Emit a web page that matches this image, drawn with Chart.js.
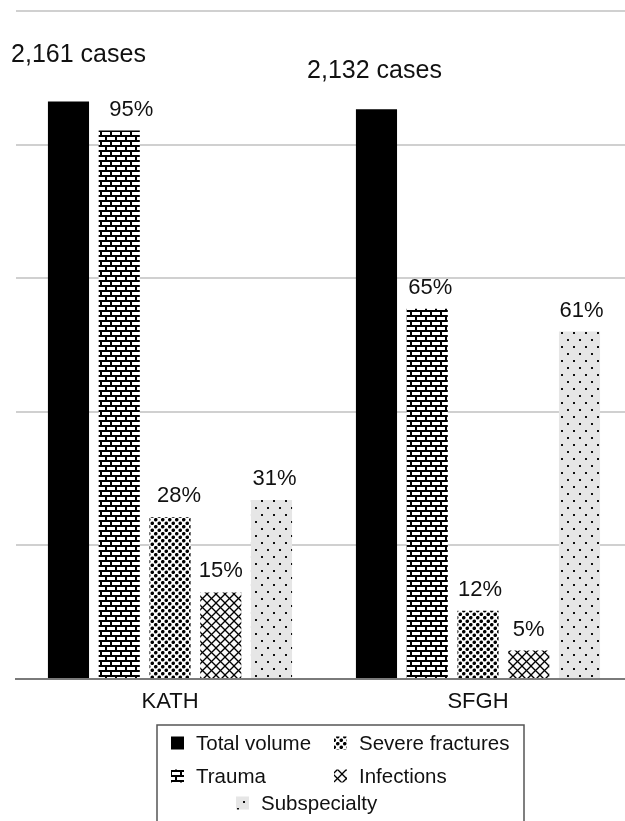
<!DOCTYPE html>
<html>
<head>
<meta charset="utf-8">
<script src="https://cdn.jsdelivr.net/npm/chart.js@4"></script>
<style>
  html, body { margin: 0; padding: 0; background: #fff; overflow: hidden; }
  #wrap { position: absolute; left: 0; top: 0; width: 640px; height: 821px; }
</style>
</head>
<body>
<div id="wrap"><canvas id="c"></canvas></div>
<script>
// Hospitals compared
const categories = ['KATH', 'SFGH'];
// Series names (legend order)
const seriesNames = ['Total volume', 'Trauma', 'Severe fractures', 'Infections', 'Subspecialty'];
// Total case volume per hospital
const totalCases = [2161, 2132];
// Share of total volume, in percent
const traumaPct = [95, 65];
const severePct = [28, 12];
const infectionPct = [15, 5];
const subspecialtyPct = [31, 61];
// Value axis
const yMax = 2500;
const yStep = 500;

const FONT = "'Liberation Sans', Arial, sans-serif";
const INK = '#111';

const fmt = new Intl.NumberFormat('en-US');
const shareOf = pct => totalCases.map((t, i) => t * pct[i] / 100);

// ---- fill patterns ----
function tile(w, h, draw) {
  const c = document.createElement('canvas');
  c.width = w; c.height = h;
  const g = c.getContext('2d');
  draw(g);
  return c;
}
const brickTile = tile(10, 10, g => {
  g.fillStyle = '#fff'; g.fillRect(0, 0, 10, 10);
  g.fillStyle = '#000';
  g.fillRect(0, 0, 10, 2); g.fillRect(0, 5, 10, 2);
  g.fillRect(0, 2, 2, 3); g.fillRect(5, 7, 2, 3);
});
const dotsDenseTile = tile(7, 7, g => {
  g.fillStyle = '#fff'; g.fillRect(0, 0, 7, 7);
  g.fillStyle = '#000';
  [[1.75, 1.75], [5.25, 5.25]].forEach(([x, y]) => {
    g.beginPath(); g.arc(x, y, 1.8, 0, Math.PI * 2); g.fill();
  });
});
const crossTile = tile(9, 9, g => {
  g.fillStyle = '#fafafa'; g.fillRect(0, 0, 9, 9);
  g.strokeStyle = '#000'; g.lineWidth = 1.3;
  const seg = (a, b, c, d) => { g.beginPath(); g.moveTo(a, b); g.lineTo(c, d); g.stroke(); };
  seg(-2, -2, 11, 11); seg(7, -2, 11, 2); seg(-2, 7, 2, 11);
  seg(11, -2, -2, 11); seg(2, -2, -2, 2); seg(11, 7, 7, 11);
});
const sparseTile = tile(12, 14, g => {
  g.fillStyle = '#e6e6e6'; g.fillRect(0, 0, 12, 14);
  g.fillStyle = '#111';
  g.fillRect(3, 3, 2, 2); g.fillRect(9, 10, 2, 2);
});

const canvas = document.getElementById('c');
const ctx0 = canvas.getContext('2d');
const fills = [
  '#000',
  ctx0.createPattern(brickTile, 'repeat'),
  ctx0.createPattern(dotsDenseTile, 'repeat'),
  ctx0.createPattern(crossTile, 'repeat'),
  ctx0.createPattern(sparseTile, 'repeat')
];

const seriesValues = [
  totalCases,
  shareOf(traumaPct),
  shareOf(severePct),
  shareOf(infectionPct),
  shareOf(subspecialtyPct)
];
const seriesPct = [null, traumaPct, severePct, infectionPct, subspecialtyPct];

// ---- value labels above bars ----
const barLabels = {
  id: 'barLabels',
  afterDatasetsDraw(chart) {
    const ctx = chart.ctx;
    ctx.save();
    ctx.fillStyle = INK;
    ctx.textAlign = 'center';
    ctx.textBaseline = 'middle';
    // small horizontal nudges for the text above each bar
    const nudge = [[10, -2], [12, 3], [9, 2], [0, 0], [3, 2]];
    const caseLift = [46, 38];
    chart.data.datasets.forEach((ds, di) => {
      chart.getDatasetMeta(di).data.forEach((bar, i) => {
        const x = bar.x + nudge[di][i];
        if (di === 0) {
          ctx.font = '25px ' + FONT;
          ctx.fillText(fmt.format(totalCases[i]) + ' cases', x, bar.y - caseLift[i]);
        } else {
          ctx.font = '22px ' + FONT;
          ctx.fillText(seriesPct[di][i] + '%', x, bar.y - 21);
        }
      });
    });
    ctx.restore();
  }
};

// ---- boxed legend, two columns ----
const boxedLegend = {
  id: 'boxedLegend',
  afterDraw(chart) {
    const ctx = chart.ctx;
    ctx.save();
    ctx.strokeStyle = '#555';
    ctx.lineWidth = 1.5;
    ctx.strokeRect(157, 725, 367, 120);
    const spots = [
      [171, 743], [171, 776], [334, 743], [334, 776], [236, 803]
    ];
    ctx.font = '20.5px ' + FONT;
    ctx.textBaseline = 'middle';
    ctx.textAlign = 'left';
    seriesNames.forEach((name, k) => {
      const [x, y] = spots[k];
      ctx.fillStyle = fills[k];
      ctx.fillRect(x, y - 6.5, 13, 13);
      ctx.fillStyle = INK;
      ctx.fillText(name, x + 25, y + 1);
    });
    ctx.restore();
  }
};

new Chart(canvas, {
  type: 'bar',
  data: {
    labels: categories,
    datasets: seriesNames.map((name, k) => ({
      label: name,
      data: seriesValues[k],
      backgroundColor: fills[k],
      borderWidth: 0,
      categoryPercentage: 0.824,
      barPercentage: 0.81
    }))
  },
  options: {
    responsive: true,
    maintainAspectRatio: false,
    animation: false,
    devicePixelRatio: 1,
    layout: { padding: { left: 16, right: 8, top: 11, bottom: 0 } },
    plugins: {
      legend: { display: false },
      tooltip: { enabled: false }
    },
    scales: {
      x: {
        grid: { display: false, drawTicks: false },
        border: { display: true, color: '#7a7a7a', width: 2 },
        ticks: { color: INK, font: { family: FONT, size: 22 }, padding: 10 },
        afterFit(scale) { scale.height = 142; }
      },
      y: {
        min: 0,
        max: yMax,
        ticks: { display: false, stepSize: yStep },
        grid: { color: '#d0d0d0', lineWidth: 2, drawTicks: false },
        border: { display: false },
        afterFit(scale) { scale.width = 0; }
      }
    }
  },
  plugins: [barLabels, boxedLegend]
});
</script>
</body>
</html>
